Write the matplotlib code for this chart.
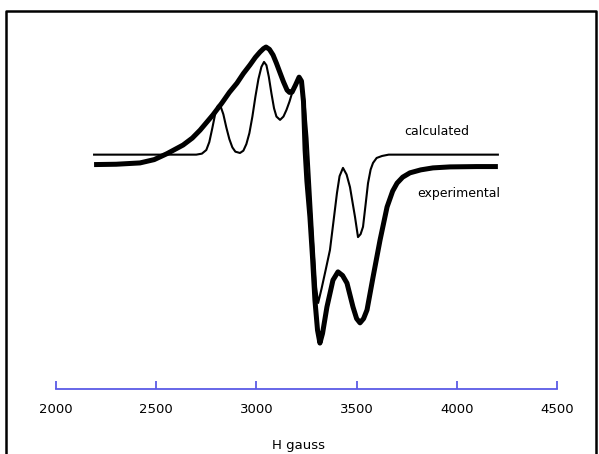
import matplotlib
matplotlib.use("Agg")
import matplotlib.pyplot as plt
from matplotlib.lines import Line2D

plt.rcParams['font.family'] = ['DejaVu Sans']

# field values (gauss) and signal (arbitrary units, calculated baseline = 0)
h_exp = [2190, 2300, 2419, 2490, 2554, 2634, 2680, 2719, 2783, 2828, 2865,
         2903, 2935, 2968, 2995, 3018, 3035, 3048, 3065, 3083, 3100, 3118,
         3135, 3153, 3165, 3178, 3195, 3213, 3225, 3235, 3243, 3252, 3267,
         3280, 3292, 3305, 3317, 3330, 3352, 3382, 3407, 3430, 3452, 3482,
         3500, 3517, 3535, 3552, 3582, 3617, 3652, 3680, 3702, 3730, 3766,
         3820, 3881, 3966, 4100, 4205]
s_exp = [-30, -29, -25, -15, 3, 29, 50, 74, 120, 156, 188,
         216, 245, 271, 294, 310, 320, 325, 318, 301, 276, 247,
         220, 195, 188, 189, 210, 234, 222, 160, 14, -80, -188,
         -310, -439, -530, -569, -540, -460, -379, -354, -365, -388, -460,
         -495, -508, -495, -469, -370, -258, -158, -110, -86, -68, -55,
         -46, -40, -37, -36, -36]

h_calc = [2190, 2700, 2728, 2750, 2765, 2780, 2795, 2805, 2813, 2823, 2835,
          2850, 2865, 2880, 2895, 2918, 2935, 2950, 2965, 2980, 2995, 3010,
          3025, 3038, 3050, 3062, 3075, 3088, 3100, 3118, 3135, 3150, 3165,
          3180, 3195, 3208, 3218, 3228, 3240, 3255, 3270, 3285, 3298, 3308,
          3325, 3345, 3367, 3385, 3402, 3415, 3432, 3450, 3467, 3480, 3492,
          3507, 3520, 3532, 3545, 3557, 3570, 3582, 3600, 3627, 3660, 4205]
s_calc = [0, 0, 3, 14, 38, 80, 125, 145, 150, 143, 122,
          82, 47, 22, 9, 5, 12, 32, 65, 115, 175, 228,
          265, 280, 270, 235, 185, 140, 115, 105, 115, 135, 160,
          190, 215, 232, 233, 215, 160, 50, -110, -270, -400, -448,
          -405, -350, -288, -200, -116, -65, -40, -60, -98, -145, -188,
          -249, -240, -218, -150, -86, -45, -25, -10, -4, 0, 0]

ticks = [2000, 2500, 3000, 3500, 4000, 4500]

fig = plt.figure(figsize=(5.99, 4.54), dpi=100)
ax = fig.add_axes([56 / 599, 0, 501 / 599, 1])
ax.set_xlim(2000, 4500)
ax.set_ylim(-904, 467)

ax.plot(h_calc, s_calc, color='black', lw=1.5, solid_joinstyle='round')
ax.plot(h_exp, s_exp, color='black', lw=3.6, solid_joinstyle='round',
        solid_capstyle='butt')

ax.text(3900, 71, 'calculated', fontsize=9, ha='center', va='center')
ax.text(4010, -116, 'experimental', fontsize=9, ha='center', va='center')

blue = '#5a5ae6'
for sp in ['top', 'left', 'right']:
    ax.spines[sp].set_visible(False)
ax.spines['bottom'].set_position(('data', -708))
ax.spines['bottom'].set_color(blue)
ax.spines['bottom'].set_linewidth(1.3)
ax.set_xticks(ticks)
ax.tick_params(axis='x', direction='in', length=6, width=1.3, color=blue,
               labelsize=9.5, pad=10)
ax.set_yticks([])
ax.patch.set_visible(False)

fig.text(299 / 599, 1 - 446 / 454, 'H gauss', fontsize=9.5, ha='center',
         va='center')

# outer frame
fx = [6 / 599, 6 / 599, 596 / 599, 596 / 599]
fy = [0, 1 - 11 / 454, 1 - 11 / 454, 0]
fig.add_artist(Line2D(fx, fy, transform=fig.transFigure, color='black',
                      lw=1.8))

fig.savefig('out.png', dpi=100)
